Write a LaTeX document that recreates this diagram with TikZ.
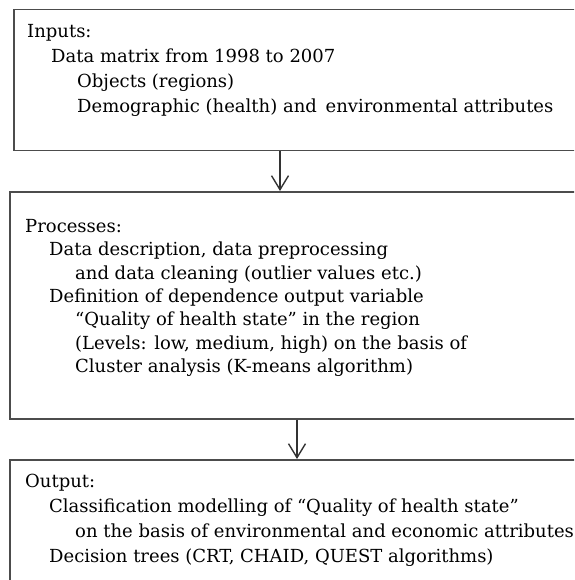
\documentclass[tikz,border=0pt]{standalone}
\usepackage{fontspec}
\setmainfont{DejaVu Serif}
\usetikzlibrary{arrows.meta}

\begin{document}
\begin{tikzpicture}[x=1pt, y=-1pt,
	box/.style={shape=rectangle, draw=black!70, line width=1.5pt, anchor=north west, inner sep=0pt},
	boxtext/.style={anchor=north west, align=left, inner sep=0pt, text=black},
	arr/.style={draw=black!80, line width=1.4pt, -{Straight Barb[length=14pt, width=17pt, line width=1.4pt]}}]
	% Frame:
	\useasboundingbox (0, 0) rectangle (574, 580);
	\clip (0, 0) rectangle (574, 580);
	% Boxes:
	\node[box, minimum width=600pt, minimum height=141pt] (inputs) at (13, 9){};
	\node[box, minimum width=600pt, minimum height=227pt] (processes) at (9, 191){};
	\node[box, minimum width=600pt, minimum height=140pt] (output) at (9, 459){};
	% Texts:
	\node[boxtext, font=\fontsize{18}{25}\selectfont] (inputstext) at (27, 24.2){Inputs:\\
		\hspace*{24pt}Data matrix from 1998 to 2007\\
		\hspace*{50pt}Objects (regions)\\
		\hspace*{50pt}Demographic (health) and\, environmental attributes};
	\node[boxtext, font=\fontsize{18}{23.3}\selectfont] (processestext) at (25, 219.2){Processes:\\
		\hspace*{24pt}Data description, data preprocessing\\
		\hspace*{50pt}and data cleaning (outlier values etc.)\\
		\hspace*{24pt}Definition of dependence output variable\\
		\hspace*{50pt}“Quality of health state” in the region\\
		\hspace*{50pt}(Levels: low, medium, high) on the basis of\\
		\hspace*{50pt}Cluster analysis (K-means algorithm)};
	\node[boxtext, font=\fontsize{18}{25}\selectfont] (outputtext) at (25, 474.2){Output:\\
		\hspace*{24pt}Classification modelling of “Quality of health state”\\
		\hspace*{50pt}on the basis of environmental and economic attributes\\
		\hspace*{24pt}Decision trees (CRT, CHAID, QUEST algorithms)};
	% Arrows:
	\coordinate (down1) at (280, 170);
	\coordinate (down2) at (297, 438);
	\draw[arr] (inputs.south -| down1) -- (processes.north -| down1);
	\draw[arr] (processes.south -| down2) -- (output.north -| down2);
\end{tikzpicture}
\end{document}
